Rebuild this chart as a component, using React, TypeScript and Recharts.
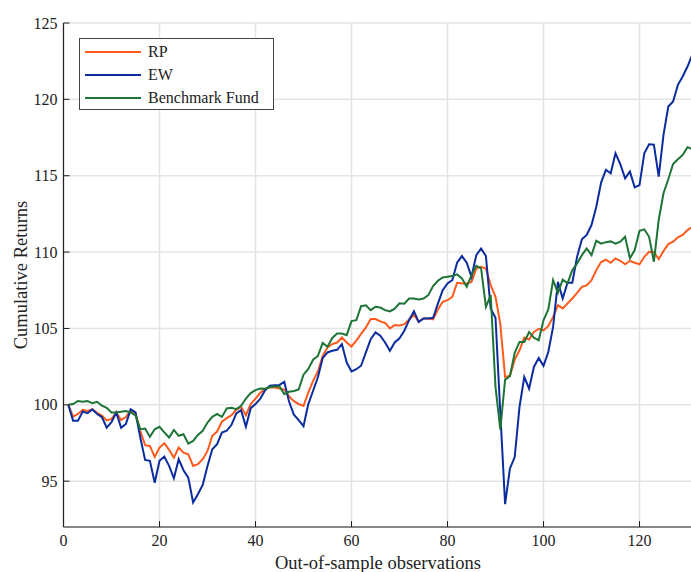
import { LineChart, Line, XAxis, YAxis, CartesianGrid, Label } from 'recharts'

// observation index 1..131
const obs = [
  1, 2, 3, 4, 5, 6, 7, 8, 9, 10, 11, 12, 13, 14, 15, 16, 17, 18, 19, 20,
  21, 22, 23, 24, 25, 26, 27, 28, 29, 30, 31, 32, 33, 34, 35, 36, 37, 38, 39, 40,
  41, 42, 43, 44, 45, 46, 47, 48, 49, 50, 51, 52, 53, 54, 55, 56, 57, 58, 59, 60,
  61, 62, 63, 64, 65, 66, 67, 68, 69, 70, 71, 72, 73, 74, 75, 76, 77, 78, 79, 80,
  81, 82, 83, 84, 85, 86, 87, 88, 89, 90, 91, 92, 93, 94, 95, 96, 97, 98, 99, 100,
  101, 102, 103, 104, 105, 106, 107, 108, 109, 110, 111, 112, 113, 114, 115, 116, 117, 118, 119, 120,
  121, 122, 123, 124, 125, 126, 127, 128, 129, 130, 131,
]

const rp = [
  100.0, 99.23, 99.4, 99.67, 99.6, 99.7, 99.47, 99.3, 98.98, 99.08,
  99.5, 99.0, 99.2, 99.65, 99.45, 98.3, 97.36, 97.31, 96.59, 97.2,
  97.49, 97.05, 96.54, 97.2, 96.87, 96.76, 96.0, 96.11, 96.44, 96.98,
  97.97, 98.25, 98.89, 99.13, 99.32, 99.67, 99.87, 99.32, 100.05, 100.41,
  100.79, 101.05, 101.14, 101.14, 101.07, 101.0, 100.55, 100.24, 100.05, 99.93,
  100.8, 101.57, 102.18, 103.21, 103.76, 103.98, 104.08, 104.41, 104.08, 103.82,
  104.2, 104.64, 105.07, 105.62, 105.62, 105.46, 105.36, 105.0, 105.22, 105.2,
  105.28, 105.59, 105.9, 105.43, 105.65, 105.65, 105.59, 106.24, 106.74, 106.85,
  107.07, 107.99, 107.95, 107.95, 108.05, 108.93, 109.04, 108.93, 107.84, 107.07,
  105.3, 101.82, 101.9, 102.96, 103.57, 104.4, 104.28, 104.77, 104.98, 104.88,
  105.15, 105.76, 106.52, 106.31, 106.63, 106.96, 107.33, 107.72, 107.82, 108.16,
  108.82, 109.35, 109.5, 109.3, 109.59, 109.43, 109.2, 109.43, 109.3, 109.2,
  109.69, 110.02, 110.0, 109.54, 110.07, 110.52, 110.68, 110.97, 111.12, 111.44,
  111.66,
]

const ew = [
  100.0, 98.95, 98.95, 99.56, 99.45, 99.7, 99.4, 99.2, 98.5, 98.86,
  99.5, 98.5, 98.75, 99.7, 99.5, 97.86, 96.39, 96.33, 94.9, 96.33,
  96.61, 96.0, 95.19, 96.44, 95.72, 95.23, 93.6, 94.14, 94.75, 96.0,
  97.09, 97.42, 98.18, 98.3, 98.69, 99.43, 99.65, 98.56, 99.78, 100.05,
  100.41, 100.96, 101.25, 101.28, 101.3, 101.5, 100.2, 99.35, 99.0, 98.6,
  100.05, 100.92, 101.8, 103.06, 103.43, 103.54, 103.6, 103.98, 102.77, 102.18,
  102.33, 102.56, 103.43, 104.3, 104.74, 104.52, 104.08, 103.54, 104.08, 104.35,
  104.85, 105.54, 106.13, 105.43, 105.65, 105.65, 105.7, 106.63, 107.5, 107.95,
  108.16, 109.3, 109.74, 109.3, 108.38, 109.8, 110.24, 109.74, 106.3, 105.7,
  99.5, 93.5, 95.82, 96.58, 99.86, 101.82, 101.06, 102.48, 103.07, 102.55,
  103.46, 105.1, 108.05, 106.96, 107.99, 107.99, 109.7, 110.84, 111.12, 111.77,
  112.97, 114.55, 115.38, 115.16, 116.47, 115.76, 114.83, 115.27, 114.24, 114.39,
  116.47, 117.06, 117.03, 114.94, 117.67, 119.53, 119.86, 120.95, 121.5, 122.15,
  122.92,
]

const bench = [
  100.0, 100.05, 100.25, 100.2, 100.25, 100.1, 100.2, 99.95, 99.8, 99.5,
  99.5, 99.55, 99.6, 99.5, 99.3, 98.4, 98.45, 97.9, 98.4, 98.56,
  98.2, 97.86, 98.36, 97.97, 98.07, 97.46, 97.64, 98.03, 98.3, 98.84,
  99.21, 99.4, 99.21, 99.76, 99.8, 99.72, 99.93, 100.41, 100.77, 100.96,
  101.07, 101.05, 101.16, 101.2, 101.2, 100.7, 100.85, 100.9, 101.0, 101.97,
  102.35, 102.95, 103.2, 104.05, 103.8, 104.38, 104.67, 104.67, 104.56, 105.48,
  105.54, 106.46, 106.52, 106.2, 106.42, 106.37, 106.2, 106.12, 106.3, 106.65,
  106.62, 106.96, 106.96, 106.9, 106.96, 107.18, 107.77, 108.12, 108.34, 108.38,
  108.43, 108.54, 108.28, 107.73, 108.49, 109.1, 108.93, 106.41, 107.18, 101.17,
  98.37, 101.65, 101.87, 103.4, 104.12, 104.12, 104.77, 104.4, 104.23, 105.54,
  106.24, 108.16, 107.33, 108.2, 107.95, 108.82, 109.25, 109.8, 110.24, 109.8,
  110.74, 110.55, 110.65, 110.7, 110.55, 110.68, 111.0, 109.59, 110.13, 111.4,
  111.49, 111.0, 109.37, 112.1, 113.85, 114.77, 115.77, 116.08, 116.36, 116.87,
  116.74,
]

const xTicks = [0, 20, 40, 60, 80, 100, 120]
const yTicks = [95, 100, 105, 110, 115, 120, 125]

const series = [
  { key: 'rp', name: 'RP', color: '#ff5a1c' },
  { key: 'ew', name: 'EW', color: '#0b2c9f' },
  { key: 'bench', name: 'Benchmark Fund', color: '#1d7436' },
]

const data = obs.map((x, i) => ({ x, rp: rp[i], ew: ew[i], bench: bench[i] }))

const FONT = '"Liberation Serif", "Times New Roman", serif'
const INK = '#222'

export default function App() {
  return (
    <div
      style={{
        position: 'fixed',
        left: 0,
        top: 0,
        width: 691,
        height: 572,
        overflow: 'hidden',
        background: '#fff',
        fontFamily: FONT,
      }}
    >
      <LineChart width={700} height={572} data={data} margin={{ top: 23, right: 7.7, bottom: 0, left: 0 }}>
        <CartesianGrid stroke="#e4e4e4" strokeWidth={1.5} />
        <XAxis
          dataKey="x"
          type="number"
          domain={[0, 131]}
          ticks={xTicks}
          allowDataOverflow
          height={45}
          tickSize={-6}
          tickMargin={14}
          axisLine={{ stroke: INK, strokeWidth: 1.2 }}
          tickLine={{ stroke: INK }}
          tick={{ fill: INK, fontSize: 16, fontFamily: FONT }}
        >
          <Label
            value="Out-of-sample observations"
            position="insideBottom"
            offset={3}
            style={{ fill: INK, fontSize: 18.5, fontFamily: FONT }}
          />
        </XAxis>
        <XAxis
          xAxisId="top"
          orientation="top"
          dataKey="x"
          type="number"
          domain={[0, 131]}
          ticks={xTicks}
          allowDataOverflow
          height={0}
          tick={false}
          tickSize={-6}
          axisLine={{ stroke: INK, strokeWidth: 1.2 }}
          tickLine={{ stroke: INK }}
        />
        <YAxis
          type="number"
          domain={[92, 125]}
          ticks={yTicks}
          allowDataOverflow
          width={63.5}
          tickSize={-6}
          tickMargin={12}
          axisLine={{ stroke: INK, strokeWidth: 1.2 }}
          tickLine={{ stroke: INK }}
          tick={{ fill: INK, fontSize: 16, fontFamily: FONT }}
        >
          <Label
            value="Cumulative Returns"
            angle={-90}
            position="insideLeft"
            offset={20}
            style={{ fill: INK, fontSize: 18.5, fontFamily: FONT, textAnchor: 'middle' }}
          />
        </YAxis>
        {series.map((s) => (
          <Line
            key={s.key}
            type="linear"
            dataKey={s.key}
            name={s.name}
            stroke={s.color}
            strokeWidth={2}
            dot={false}
            isAnimationActive={false}
          />
        ))}
      </LineChart>

      <div
        style={{
          position: 'absolute',
          left: 79,
          top: 38,
          width: 195,
          height: 72,
          boxSizing: 'border-box',
          border: '1px solid #444',
          background: '#fff',
          paddingTop: 1,
        }}
      >
        {series.map((s) => (
          <div key={s.key} style={{ display: 'flex', alignItems: 'center', height: 23.3 }}>
            <svg width={56} height={4} style={{ marginLeft: 5, display: 'block' }}>
              <line x1={0} y1={2} x2={56} y2={2} stroke={s.color} strokeWidth={2} />
            </svg>
            <span style={{ marginLeft: 7, fontSize: 16, color: INK, lineHeight: 1 }}>{s.name}</span>
          </div>
        ))}
      </div>
    </div>
  )
}
